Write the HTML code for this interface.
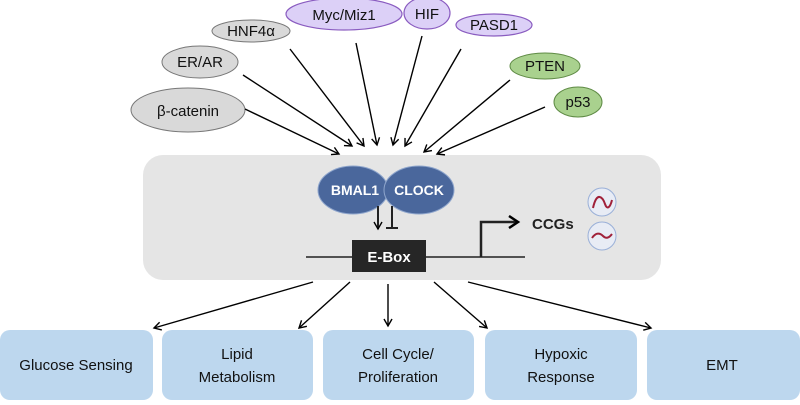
<!DOCTYPE html>
<html><head><meta charset="utf-8"><style>
html,body{margin:0;padding:0;background:#fff;}
svg text{font-family:"Liberation Sans",sans-serif;}
</style></head><body>
<svg width="800" height="400" viewBox="0 0 800 400" xmlns="http://www.w3.org/2000/svg">
<defs>
<marker id="a" markerWidth="10" markerHeight="10" refX="8" refY="5" orient="auto" markerUnits="userSpaceOnUse">
<path d="M1,1 L8,5 L1,9" fill="none" stroke="#000" stroke-width="1.4"/></marker>
<marker id="b" markerWidth="14" markerHeight="14" refX="11" refY="7" orient="auto" markerUnits="userSpaceOnUse">
<path d="M2,1 L11,7 L2,13" fill="none" stroke="#000" stroke-width="2.5"/></marker>
</defs>
<rect x="143" y="155" width="518" height="125" rx="20" fill="#e5e5e5"/>
<g fill="#d9d9d9" stroke="#777" stroke-width="1">
<ellipse cx="188" cy="110" rx="57" ry="22"/>
<ellipse cx="200" cy="62" rx="38" ry="16"/>
<ellipse cx="251" cy="31" rx="39" ry="11"/>
</g>
<g fill="#dcd0f7" stroke="#8a5cc0" stroke-width="1.2">
<ellipse cx="344" cy="14" rx="58" ry="16"/>
<ellipse cx="427" cy="13" rx="23" ry="16"/>
<ellipse cx="494" cy="25" rx="38" ry="11"/>
</g>
<g fill="#a9d18e" stroke="#5f8b45" stroke-width="1">
<ellipse cx="545" cy="66" rx="35" ry="13"/>
<ellipse cx="578" cy="102" rx="24" ry="15"/>
</g>
<g font-size="15" fill="#111" text-anchor="middle">
<text x="188" y="116">β-catenin</text>
<text x="200" y="67">ER/AR</text>
<text x="251" y="36">HNF4α</text>
<text x="344" y="20">Myc/Miz1</text>
<text x="427" y="19">HIF</text>
<text x="494" y="30">PASD1</text>
<text x="545" y="71">PTEN</text>
<text x="578" y="107">p53</text>
</g>
<g stroke="#000" stroke-width="1.4" marker-end="url(#a)">
<line x1="245" y1="109" x2="339" y2="154"/>
<line x1="243" y1="75" x2="352" y2="146"/>
<line x1="290" y1="49" x2="364" y2="146"/>
<line x1="356" y1="43" x2="377" y2="145"/>
<line x1="422" y1="36" x2="393" y2="145"/>
<line x1="461" y1="49" x2="405" y2="146"/>
<line x1="510" y1="80" x2="424" y2="152"/>
<line x1="545" y1="107" x2="437" y2="154"/>
</g>
<ellipse cx="353" cy="190" rx="35" ry="24" fill="#4a679c" stroke="#8ea5cc" stroke-width="1"/>
<ellipse cx="419" cy="190" rx="35" ry="24" fill="#4a679c" stroke="#8ea5cc" stroke-width="1"/>
<g font-size="14" font-weight="bold" fill="#fff" text-anchor="middle">
<text x="355" y="195">BMAL1</text>
<text x="419" y="195">CLOCK</text>
</g>
<line x1="378" y1="206" x2="378" y2="229" stroke="#222" stroke-width="2" marker-end="url(#a)"/>
<line x1="392" y1="206" x2="392" y2="228" stroke="#222" stroke-width="2"/>
<line x1="386" y1="228" x2="398" y2="228" stroke="#222" stroke-width="2"/>
<line x1="306" y1="257" x2="525" y2="257" stroke="#222" stroke-width="1.5"/>
<rect x="352" y="240" width="74" height="32" fill="#262626"/>
<text x="389" y="262" font-size="15" font-weight="bold" fill="#fff" text-anchor="middle">E-Box</text>
<path d="M481,257 L481,222 L518,222" fill="none" stroke="#222" stroke-width="2.5" marker-end="url(#b)"/>
<text x="532" y="229" font-size="15" font-weight="bold" fill="#222">CCGs</text>
<circle cx="602" cy="202" r="14" fill="#e8ecf5" stroke="#9ab0d8" stroke-width="1"/>
<circle cx="602" cy="236" r="14" fill="#e8ecf5" stroke="#9ab0d8" stroke-width="1"/>
<path d="M593,208 C597,190 603,198 605,204 C607,210 610,208 612,200" fill="none" stroke="#a0213a" stroke-width="2"/>
<path d="M592,238 C596,232 600,233 603,236 C606,239 609,238 612,234" fill="none" stroke="#a0213a" stroke-width="2"/>
<g stroke="#000" stroke-width="1.4" marker-end="url(#a)">
<line x1="313" y1="282" x2="154" y2="328"/>
<line x1="350" y1="282" x2="299" y2="328"/>
<line x1="388" y1="284" x2="388" y2="326"/>
<line x1="434" y1="282" x2="487" y2="328"/>
<line x1="468" y1="282" x2="651" y2="328"/>
</g>
<g fill="#bdd7ee">
<rect x="0" y="330" width="153" height="70" rx="10"/>
<rect x="162" y="330" width="151" height="70" rx="10"/>
<rect x="323" y="330" width="151" height="70" rx="10"/>
<rect x="485" y="330" width="152" height="70" rx="10"/>
<rect x="647" y="330" width="153" height="70" rx="10"/>
</g>
<g font-size="15" fill="#111" text-anchor="middle">
<text x="76" y="370">Glucose Sensing</text>
<text x="237" y="359">Lipid</text>
<text x="237" y="382">Metabolism</text>
<text x="398" y="359">Cell Cycle/</text>
<text x="398" y="382">Proliferation</text>
<text x="561" y="359">Hypoxic</text>
<text x="561" y="382">Response</text>
<text x="722" y="370">EMT</text>
</g>
</svg>
</body></html>
